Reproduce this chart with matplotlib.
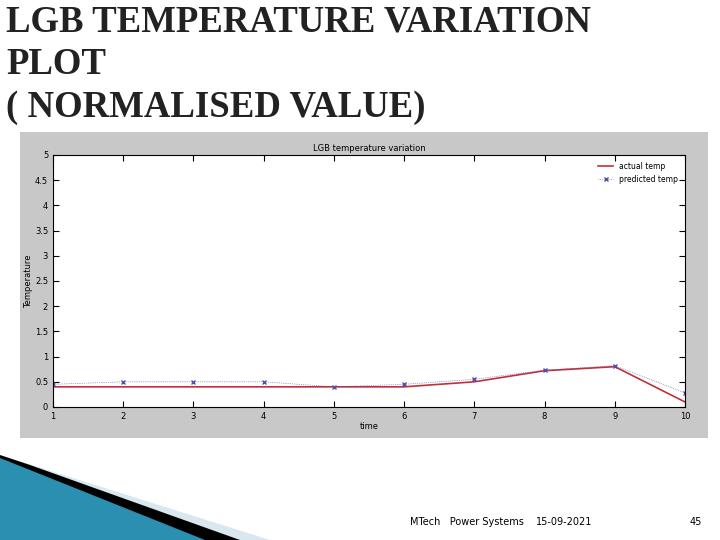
import matplotlib
matplotlib.use("Agg")
import matplotlib.pyplot as plt
from matplotlib.patches import Polygon, Rectangle

time = [1, 2, 3, 4, 5, 6, 7, 8, 9, 10]
actual_temp = [0.4, 0.4, 0.4, 0.4, 0.4, 0.4, 0.5, 0.72, 0.8, 0.1]
predicted_temp = [0.45, 0.5, 0.5, 0.5, 0.4, 0.45, 0.55, 0.73, 0.82, 0.28]
y_ticks = [0, 0.5, 1, 1.5, 2, 2.5, 3, 3.5, 4, 4.5, 5]
y_labels = ["0", "0.5", "1", "1.5", "2", "2.5", "3", "3.5", "4", "4.5", "5"]

W, H = 720, 540
fig = plt.figure(figsize=(7.2, 5.4), dpi=100)
fig.patch.set_facecolor("white")

# slide title
fig.text(6 / W, 1 - 4 / H, "LGB TEMPERATURE VARIATION\nPLOT\n( NORMALISED VALUE)",
         family="Liberation Serif", fontsize=26.5, fontweight="bold", va="top",
         ha="left", linespacing=1.3, color="#222222")

# grey figure panel of the embedded MATLAB plot
fig.add_artist(Rectangle((20 / W, 1 - 438 / H), 688 / W, 306 / H,
                         transform=fig.transFigure, facecolor="#c8c8c8",
                         edgecolor="none", zorder=0))

ax = fig.add_axes([53 / W, 1 - 407 / H, 632 / W, 252 / H])
ax.plot(time, actual_temp, color="#c0303a", linewidth=1.2, label="actual temp")
ax.plot(time, predicted_temp, color="#5050b0", linestyle=":", linewidth=0.5,
        marker="x", markersize=3, label="predicted temp")
ax.set_xlim(1, 10)
ax.set_ylim(0, 5)
ax.set_xticks(time)
ax.set_yticks(y_ticks)
ax.set_yticklabels(y_labels)
ax.tick_params(direction="in", labelsize=6, length=4, top=True, right=True)
ax.set_title("LGB temperature variation", fontsize=6, pad=3)
ax.set_xlabel("time", fontsize=6, labelpad=1)
ax.set_ylabel("Temperature", fontsize=6, labelpad=1)
for s in ax.spines.values():
    s.set_linewidth(0.8)
leg = ax.legend(loc="upper right", fontsize=5.5, frameon=False)

# footer decoration
fig.add_artist(Polygon([(0, 1 - 455 / H), (0, 0), (270 / W, 0)], closed=True,
                       transform=fig.transFigure, facecolor="#d8e8ee", edgecolor="none"))
fig.add_artist(Polygon([(0, 1 - 455 / H), (0, 0), (240 / W, 0), (30 / W, 1 - 465 / H)],
                       closed=True, transform=fig.transFigure,
                       facecolor="black", edgecolor="none"))
fig.add_artist(Polygon([(0, 1 - 458 / H), (0, 0), (205 / W, 0)], closed=True,
                       transform=fig.transFigure, facecolor="#2a8fb0", edgecolor="none"))

fig.text(410 / W, 1 - 522 / H, "MTech   Power Systems", fontsize=7, va="center")
fig.text(536 / W, 1 - 522 / H, "15-09-2021", fontsize=7, va="center")
fig.text(690 / W, 1 - 522 / H, "45", fontsize=7, va="center")

fig.savefig("out.png", dpi=100)
